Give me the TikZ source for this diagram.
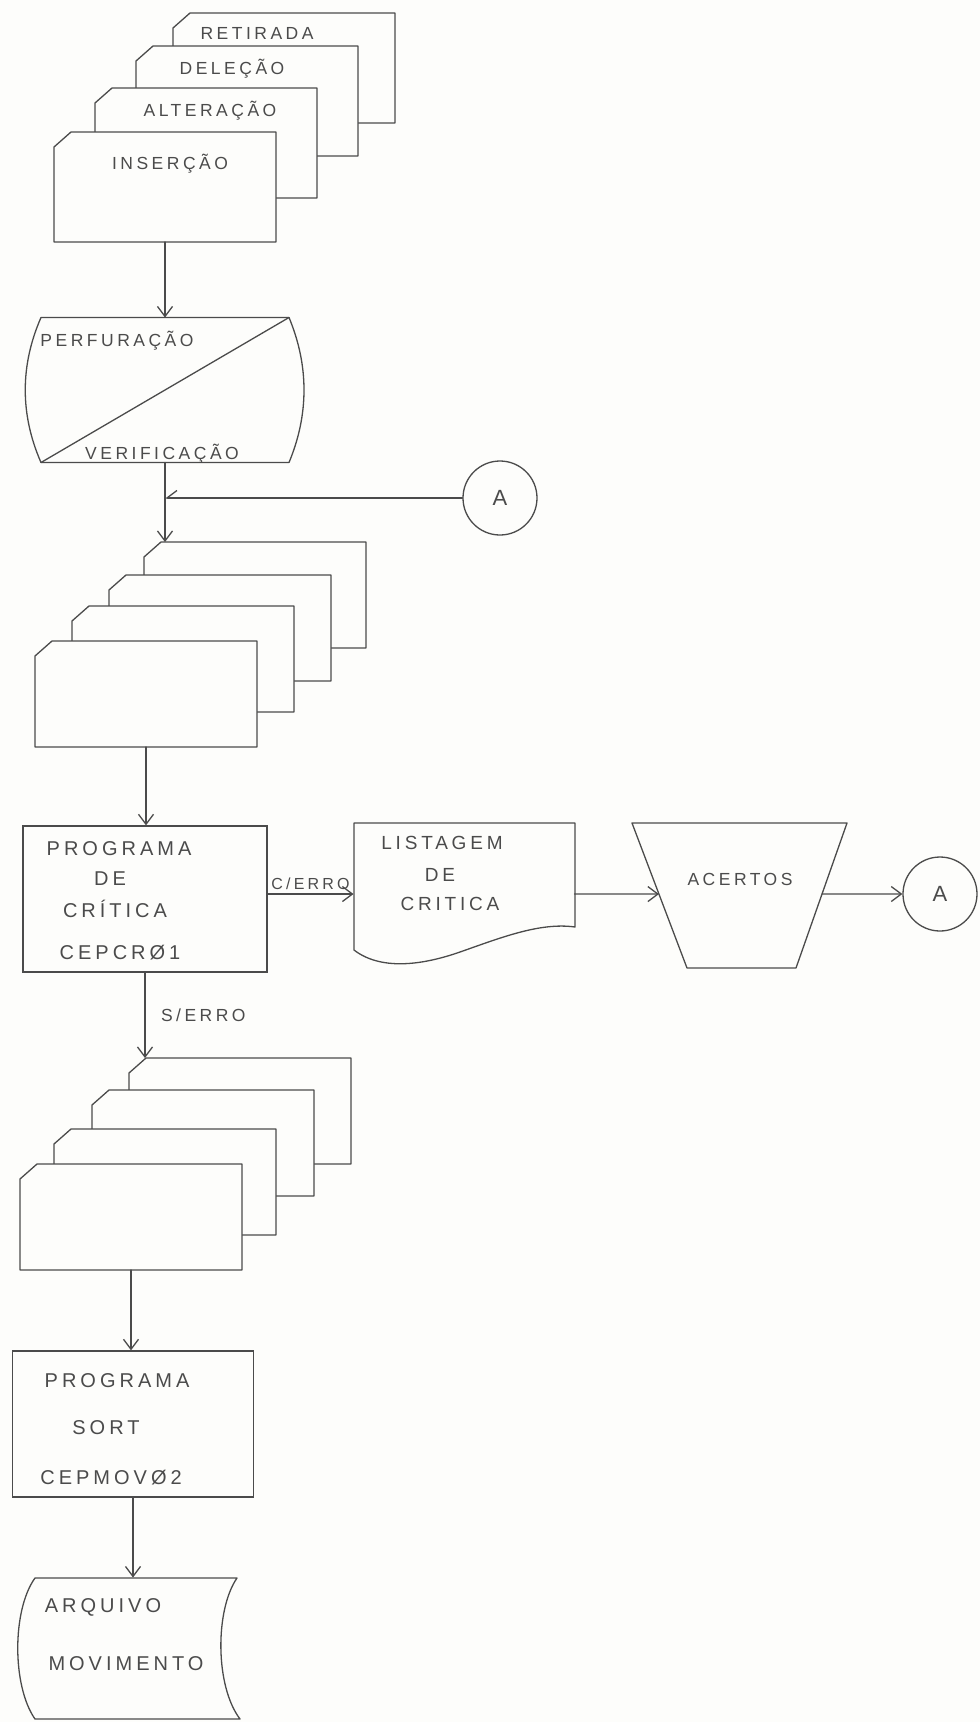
\documentclass[tikz,border=0pt]{standalone}
\usepackage{fontspec}
\setmainfont{Liberation Sans}[LetterSpace=20]
\usetikzlibrary{arrows.meta,calc}
\definecolor{ink}{RGB}{75,75,75}
\definecolor{paper}{RGB}{253,253,251}
\tikzset{
  ln/.style={draw=ink, line width=1.3pt, line join=round, line cap=round},
  shp/.style={ln, fill=paper},
  anc/.style={draw=none, inner sep=0pt, outer sep=0pt},
  cardnode/.style={anc, minimum width=222pt, minimum height=110pt},
  smallcard/.style={anc, minimum width=222pt, minimum height=106pt},
  arr/.style={ln, -{Straight Barb[length=10pt,width=15pt]}},
  harp/.style={ln, -{Straight Barb[harpoon,swap,length=10pt,width=15pt]}},
  lbl/.style={text=ink, inner sep=0pt, outer sep=0pt, text height=12.5pt, text depth=0pt, font=\fontsize{17.5}{20}\selectfont},
  smalllbl/.style={lbl, text height=11.5pt, font=\fontsize{16}{18}\selectfont},
  medlbl/.style={lbl, text height=13.5pt, font=\fontsize{19}{21}\selectfont},
  biglbl/.style={lbl, text height=14pt, font=\fontsize{20}{22}\selectfont},
  boxnode/.style={rectangle, draw=ink, line width=1.3pt, fill=paper, inner sep=0pt},
  conn/.style={circle, draw=ink, line width=1.3pt, fill=paper, minimum size=74pt, inner sep=0pt, text=ink, font=\fontsize{22}{24}\selectfont},
}
\newcommand\cardoutline[1]{%
  \path[shp] (#1.south west) -- ($(#1.north west)+(0,15)$) -- ($(#1.north west)+(17,0)$) -- (#1.north east) -- (#1.south east) -- cycle;}

\begin{document}
\begin{tikzpicture}[x=1pt,y=-1pt]
\fill[paper] (0,0) rectangle (980,1722);
\useasboundingbox (0,0) rectangle (980,1722);

% ---------- first stack of cards ----------
\node[cardnode] (ret) at (284,68) {};
\cardoutline{ret}
\node[lbl] (tret) at (257,33) {RETIRADA};
\node[cardnode] (del) at (247,101) {};
\cardoutline{del}
\node[lbl] (tdel) at (232,68) {DELEÇÃO};
\node[cardnode] (alt) at (206,143) {};
\cardoutline{alt}
\node[lbl] (talt) at (210,110) {ALTERAÇÃO};
\node[cardnode] (ins) at (165,187) {};
\cardoutline{ins}
\node[lbl] (tins) at (170,163) {INSERÇÃO};

% ---------- perfuracao / verificacao ----------
\node[anc, minimum width=248pt, minimum height=145pt] (perf) at (165,390) {};
\path[shp] (perf.north west) -- (perf.north east)
  .. controls ($(perf.north east)+(20,48)$) and ($(perf.south east)+(20,-48)$) .. (perf.south east)
  -- (perf.south west)
  .. controls ($(perf.south west)+(-21,-48)$) and ($(perf.north west)+(-21,48)$) .. (perf.north west) -- cycle;
\draw[ln] (perf.south west) -- (perf.north east);
\node[lbl] (tperf) at (117,340) {PERFURAÇÃO};
\node[lbl] (tver) at (162,453) {VERIFICAÇÃO};

\node[conn] (a1) at (500,498) {A};

% ---------- second stack ----------
\node[smallcard] (s2a) at (255,595) {};
\cardoutline{s2a}
\node[smallcard] (s2b) at (220,628) {};
\cardoutline{s2b}
\node[smallcard] (s2c) at (183,659) {};
\cardoutline{s2c}
\node[smallcard] (s2d) at (146,694) {};
\cardoutline{s2d}

% ---------- programa de critica ----------
\node[boxnode, minimum width=244pt, minimum height=146pt] (crit) at (145,899) {};
\node[biglbl] (tc1) at (119,848) {PROGRAMA};
\node[biglbl] (tc2) at (110,878) {DE};
\node[biglbl] (tc3) at (115,910) {CRÍTICA};
\node[biglbl] (tc4) at (120,952) {CEPCRØ1};

% ---------- listagem de critica (document) ----------
\node[anc, minimum width=221pt, minimum height=142pt] (list) at (464,894) {};
\path[shp] (354,823) -- (575,823) -- (575,927)
  .. controls (540,922) and (500,938) .. (460,952)
  .. controls (420,966) and (380,970) .. (354,950) -- cycle;
\node[medlbl] (tl1) at (442,843) {LISTAGEM};
\node[medlbl] (tl2) at (440,875) {DE};
\node[medlbl] (tl3) at (450,904) {CRITICA};

% ---------- acertos (manual operation) ----------
\coordinate (acTL) at (632,823);
\coordinate (acTR) at (847,823);
\coordinate (acBR) at (796,968);
\coordinate (acBL) at (687,968);
\path[shp] (acTL) -- (acTR) -- (acBR) -- (acBL) -- cycle;
\path (acTL) -- (acBL) coordinate[pos=0.49] (acW);
\path (acTR) -- (acBR) coordinate[pos=0.49] (acE);
\node[lbl] (tac) at (740,879) {ACERTOS};

\node[conn] (a2) at (940,894) {A};

% ---------- third stack ----------
\node[smallcard] (s3a) at (240,1111) {};
\cardoutline{s3a}
\node[smallcard] (s3b) at (203,1143) {};
\cardoutline{s3b}
\node[smallcard] (s3c) at (165,1182) {};
\cardoutline{s3c}
\node[smallcard] (s3d) at (131,1217) {};
\cardoutline{s3d}

% ---------- programa sort ----------
\node[boxnode, minimum width=241pt, minimum height=146pt] (sort) at (133,1424) {};
\node[biglbl] (ts1) at (117,1380) {PROGRAMA};
\node[biglbl] (ts2) at (106,1427) {SORT};
\node[biglbl] (ts3) at (111,1477) {CEPMOVØ2};

% ---------- arquivo movimento ----------
\node[anc, minimum width=202pt, minimum height=141pt] (arq) at (136,1648) {};
\path[shp] (35,1578) -- (237,1578)
  .. controls (215,1610) and (215,1686) .. (240,1719)
  -- (35,1719)
  .. controls (12,1686) and (12,1610) .. (35,1578) -- cycle;
\node[biglbl] (tq1) at (103,1605) {ARQUIVO};
\node[biglbl] (tq2) at (126,1663) {MOVIMENTO};

% ---------- connectors ----------
\draw[arr] (ins.south) -- (ins.south |- perf.north);
\coordinate (j1) at (perf.south |- a1.west);
\draw[ln] (perf.south) -- (j1);
\draw[arr] (j1) -- (perf.south |- s2a.north);
\draw[harp] (a1.west) -- (j1);
\draw[arr] (s2d.south) -- (s2d.south |- crit.north);
\draw[arr] (list.west -| crit.east) -- (list.west)
  node[midway, above=5pt, smalllbl] (tce) {C/ERRO};
\draw[arr] (list.east) -- (acW);
\draw[arr] (acE) -- (a2.west);
\draw[arr] (crit.south) -- (crit.south |- s3a.north)
  node[midway, right=16pt, lbl] (tse) {S/ERRO};
\draw[arr] (s3d.south) -- (s3d.south |- sort.north);
\draw[arr] (sort.south) -- (sort.south |- arq.north);
\end{tikzpicture}
\end{document}
